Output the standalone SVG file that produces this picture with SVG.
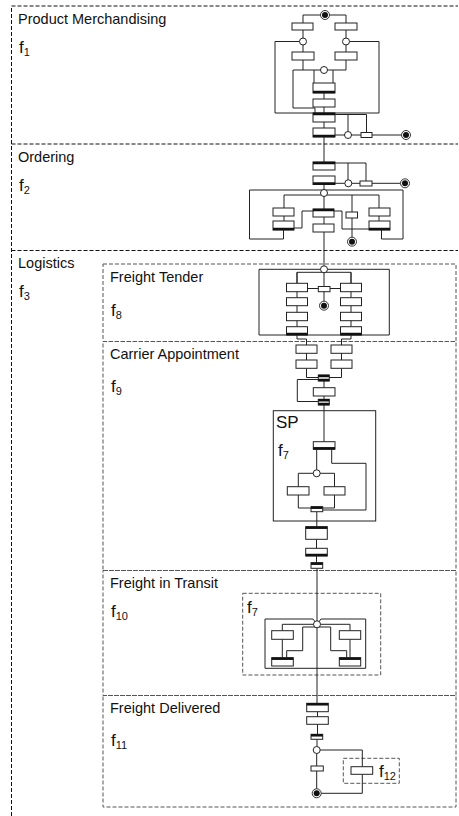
<svg xmlns="http://www.w3.org/2000/svg" width="459" height="816" viewBox="0 0 459 816">
<style>
text{font-family:"Liberation Sans",Arial,sans-serif;fill:#111}
.lbl{font-size:14.5px}
.f{font-size:17px}
.sub{font-size:11px}
.outer{fill:none;stroke:#111;stroke-width:1;stroke-dasharray:4 2}
.inner{fill:none;stroke:#555;stroke-width:1;stroke-dasharray:4 2}
.box{fill:none;stroke:#222;stroke-width:1}
.c{fill:none;stroke:#222;stroke-width:1}
.t{fill:#fff;stroke:#222;stroke-width:1}
.bar{fill:none;stroke:#111;stroke-width:2.5}
.p{fill:#fff;stroke:#222;stroke-width:1}
.e{fill:#fff;stroke:#333;stroke-width:1}
.ei{fill:#111}
</style>
<defs>
<g id="endc"><circle class="e" r="4.5"/><circle class="ei" r="3"/></g>
</defs>
<g id="frames">
<path class="outer" d="M11.5,816 V6 H458 M11.5,144 H458 M11.5,250.5 H458"/>
<rect class="inner" x="103" y="264" width="353" height="77.5"/>
<rect class="inner" x="103" y="341.5" width="353" height="229"/>
<rect class="inner" x="103" y="570.5" width="353" height="125"/>
<rect class="inner" x="103" y="695.5" width="353" height="111.5"/>
<rect class="inner" x="242.7" y="593.3" width="138" height="81.7"/>
<rect class="inner" x="343.3" y="758.3" width="56" height="25"/>
<rect class="box" x="273.3" y="410.7" width="102.4" height="110.3"/>
</g>
<g id="labels">
<text class="lbl" x="18" y="24">Product Merchandising</text>
<text class="f" x="19" y="53">f<tspan class="sub" dy="3">1</tspan></text>
<text class="lbl" x="18" y="162">Ordering</text>
<text class="f" x="19" y="191">f<tspan class="sub" dy="3">2</tspan></text>
<text class="lbl" x="18" y="268">Logistics</text>
<text class="f" x="19" y="297">f<tspan class="sub" dy="3">3</tspan></text>
<text class="lbl" x="110" y="282">Freight Tender</text>
<text class="f" x="111" y="316">f<tspan class="sub" dy="3">8</tspan></text>
<text class="lbl" x="110" y="359">Carrier Appointment</text>
<text class="f" x="111" y="392">f<tspan class="sub" dy="3">9</tspan></text>
<text class="lbl" x="110" y="588">Freight in Transit</text>
<text class="f" x="111" y="617">f<tspan class="sub" dy="3">10</tspan></text>
<text class="lbl" x="110" y="713">Freight Delivered</text>
<text class="f" x="111" y="746">f<tspan class="sub" dy="3">11</tspan></text>
<text class="f" x="276" y="428">SP</text>
<text class="f" x="278" y="456">f<tspan class="sub" dy="3">7</tspan></text>
<text class="f" x="247" y="613">f<tspan class="sub" dy="3">7</tspan></text>
<text class="f" x="379" y="777">f<tspan class="sub" dy="3">12</tspan></text>
</g>
<g id="connectors">
<!-- product merchandising -->
<path class="c" d="M303,23 V15 H346 V23 M303,30 V52 M346,30 V52"/>
<path class="c" d="M299.5,41.5 H275 V113 H379 V41.5 H349.5"/>
<path class="c" d="M303,60 V70 H346 V60 M314,70 V83 M333,70 V83 M303,70 H293 V108 H315 V113"/>
<path class="c" d="M324,93 V99 M324,107 V113 M324,122 V128 M335,114.5 H366.5 V133 M348,114.5 V131.5 M335,135 H401.5 M324,137 V162"/>
<!-- ordering -->
<path class="c" d="M335,163 H366 V181 M348,163 V180 M335,183.3 H400.5 M324,185 V193"/>
<path class="c" d="M249.5,190 H403 M249.5,190 V239 H283.5 V230 M403,190 V239 H381.5 V230"/>
<path class="c" d="M284,208 V195 H379 V208 M324,193 V209 M352,195 V212 M352,218 V237 M284,216 V221 M379,216 V221"/>
<path class="c" d="M294,228 H302 V211 H313 M334,211 H342 V229 H369 M324,217 V224 M324,232 V269"/>
<!-- freight tender -->
<path class="c" d="M320.5,269.3 H259 V335 H389.3 V269.3 H327.5"/>
<path class="c" d="M297,283.3 V272.3 H351 V283.3 M297,272.3 V326.7 M351,272.3 V326.7 M324,269 V301 M307.5,288.5 H340.5"/>
<path class="c" d="M297,335 V339 H306.5 V345 M351,335 V339 H341.5 V345"/>
<!-- carrier appointment -->
<path class="c" d="M306.5,353 V360 M341.5,353 V360 M306.5,368.3 V377.5 H318.3 M341.5,368.3 V377.5 H329"/>
<path class="c" d="M318.3,379.5 H297.3 V401.5 H318.3 M324,381 V387.7 M324,396 V399.3 M324,405 V441.7"/>
<path class="c" d="M316.7,449.3 V473.3 M331.7,449.3 V463.3 H366 V510 H322.7 M298.3,486.7 V473.3 H334.5 V486.7"/>
<path class="c" d="M298.3,495 V508 H311 M334.5,495 V508 H322.7 M316.8,511.7 V526.7 M316.5,539.3 V548.3 M316.5,556 V562.7 M317,568.3 V703.3"/>
<!-- freight in transit -->
<path class="c" d="M265,619 H313 L317,624.3 L321,619 H365.7 V668.3 H265 Z"/>
<path class="c" d="M317,624.3 H282.3 V630.7 M317,627 H302.7 V650.7 H286.7 V657.7 M282.3,639.3 V657.7"/>
<path class="c" d="M317,624.3 H350 V630.7 M317,627 H330.7 V650.7 H346.7 V657.7 M350,639.3 V657.7"/>
<!-- freight delivered -->
<path class="c" d="M317.5,711.7 V716.7 M317.5,724.3 V734.3 M317,739.3 V750 H362.3 V766.7 M362.3,774.3 V793.3 H317 M316.7,750 V793.3"/>
</g>
<g id="n-start"><use href="#endc" x="325" y="15"/></g>
<g id="n-a1"><rect class="t" x="292" y="23" width="21" height="7"/></g>
<g id="n-a2"><rect class="t" x="335" y="23" width="22" height="7"/></g>
<g id="n-pa"><circle class="p" cx="303" cy="41.5" r="3.5"/></g>
<g id="n-pb"><circle class="p" cx="346" cy="41.5" r="3.5"/></g>
<g id="n-b1"><rect class="t" x="292" y="52" width="22" height="8"/></g>
<g id="n-b2"><rect class="t" x="335" y="52" width="22" height="8"/></g>
<g id="n-pc"><circle class="p" cx="324" cy="70" r="3.5"/></g>
<g id="n-c1"><rect class="t" x="313" y="83" width="22" height="10"/><path class="bar" d="M313,92 H335"/></g>
<g id="n-c2"><rect class="t" x="313" y="99" width="22" height="8"/></g>
<g id="n-c3"><rect class="t" x="313" y="113" width="22" height="9"/><path class="bar" d="M313,114 H335"/></g>
<g id="n-c4"><rect class="t" x="313" y="128" width="22" height="9"/><path class="bar" d="M313,136 H335"/></g>
<g id="n-pd"><circle class="p" cx="348" cy="135" r="3.5"/></g>
<g id="n-s1"><rect class="t" x="361" y="132.5" width="11" height="5"/></g>
<g id="n-end1"><use href="#endc" x="406" y="135"/></g>
<g id="n-d1"><rect class="t" x="313" y="162" width="22" height="8"/><path class="bar" d="M313,163 H335"/></g>
<g id="n-d2"><rect class="t" x="313" y="176" width="22" height="8.5"/><path class="bar" d="M313,183.5 H335"/></g>
<g id="n-pe"><circle class="p" cx="348.3" cy="183.3" r="3.5"/></g>
<g id="n-s2"><rect class="t" x="360" y="181" width="12" height="5"/></g>
<g id="n-end2"><use href="#endc" x="405" y="183.3"/></g>
<g id="n-pq"><circle class="p" cx="324" cy="193" r="3.5"/></g>
<g id="n-e1"><rect class="t" x="273" y="208" width="21" height="8"/></g>
<g id="n-e2"><rect class="t" x="273" y="221" width="21" height="9"/><path class="bar" d="M273,229 H294"/></g>
<g id="n-f1"><rect class="t" x="313" y="209" width="21" height="8"/><path class="bar" d="M313,210 H334"/></g>
<g id="n-f2"><rect class="t" x="313" y="224" width="21" height="8"/></g>
<g id="n-g"><rect class="t" x="346" y="212" width="11.5" height="6"/></g>
<g id="n-end3"><use href="#endc" x="352" y="241.7"/></g>
<g id="n-h1"><rect class="t" x="369" y="208" width="21" height="8"/></g>
<g id="n-h2"><rect class="t" x="369" y="221" width="21" height="9"/><path class="bar" d="M369,229 H390"/></g>
<g id="n-pft"><circle class="p" cx="324" cy="269.3" r="3.5"/></g>
<g id="n-l1"><rect class="t" x="286.5" y="283.3" width="21" height="8.4"/></g>
<g id="n-l2"><rect class="t" x="286.5" y="297.7" width="21" height="8"/></g>
<g id="n-l3"><rect class="t" x="286.5" y="312.3" width="21" height="8.4"/></g>
<g id="n-l4"><rect class="t" x="286.5" y="326.7" width="21" height="8.3"/><path class="bar" d="M286.5,334 H307.5"/></g>
<g id="n-r1"><rect class="t" x="340.5" y="283.3" width="21" height="8.4"/></g>
<g id="n-r2"><rect class="t" x="340.5" y="297.7" width="21" height="8"/></g>
<g id="n-r3"><rect class="t" x="340.5" y="312.3" width="21" height="8.4"/></g>
<g id="n-r4"><rect class="t" x="340.5" y="326.7" width="21" height="8.3"/><path class="bar" d="M340.5,334 H361.5"/></g>
<g id="n-cs"><rect class="t" x="318.3" y="286.5" width="11.7" height="5.2"/></g>
<g id="n-end4"><use href="#endc" x="324" y="305.7"/></g>
<g id="n-p1"><rect class="t" x="296" y="345" width="21" height="8.3"/></g>
<g id="n-q1"><rect class="t" x="331" y="345" width="21" height="8.3"/></g>
<g id="n-p2"><rect class="t" x="296" y="360" width="21" height="8.3"/></g>
<g id="n-q2"><rect class="t" x="331" y="360" width="21" height="8.3"/></g>
<g id="n-ra"><rect class="t" x="318.3" y="375" width="11" height="6"/><path class="bar" d="M318.3,376 H329.3 M318.3,380 H329.3"/></g>
<g id="n-rb"><rect class="t" x="313.3" y="387.7" width="21.7" height="8.3"/></g>
<g id="n-rc"><rect class="t" x="318.3" y="399.3" width="11" height="5.7"/><path class="bar" d="M318.3,400.3 H329.3 M318.3,404 H329.3"/></g>
<g id="n-sp1"><rect class="t" x="313.3" y="441.7" width="21.7" height="7.6"/><path class="bar" d="M313.3,448.3 H335"/></g>
<g id="n-sp2"><circle class="p" cx="316.7" cy="473.3" r="3.5"/></g>
<g id="n-t1"><rect class="t" x="287.3" y="486.7" width="21.7" height="8.3"/></g>
<g id="n-t2"><rect class="t" x="324" y="486.7" width="21" height="8.3"/></g>
<g id="n-u"><rect class="t" x="311" y="506.7" width="11.7" height="5"/><path class="bar" d="M311,507.7 H322.7"/></g>
<g id="n-v1"><rect class="t" x="305.7" y="526.7" width="21.6" height="12.6"/><path class="bar" d="M305.7,527.7 H327.3"/></g>
<g id="n-v2"><rect class="t" x="305.7" y="548.3" width="21.6" height="7.7"/><path class="bar" d="M305.7,555 H327.3"/></g>
<g id="n-v3"><rect class="t" x="311" y="562.7" width="11.7" height="5.6"/><path class="bar" d="M311,563.7 H322.7"/></g>
<g id="n-ptr"><circle class="p" cx="317" cy="624.3" r="3.5"/></g>
<g id="n-w1"><rect class="t" x="271.7" y="630.7" width="21.6" height="8.6"/></g>
<g id="n-w2"><rect class="t" x="271.7" y="657.7" width="21.6" height="8.3"/><path class="bar" d="M271.7,658.7 H293.3"/></g>
<g id="n-x1"><rect class="t" x="339.3" y="630.7" width="21.4" height="8.6"/></g>
<g id="n-x2"><rect class="t" x="339.3" y="657.7" width="21.4" height="8.3"/><path class="bar" d="M339.3,658.7 H360.7"/></g>
<g id="n-y1"><rect class="t" x="306.7" y="703.3" width="21.6" height="8.4"/><path class="bar" d="M306.7,704.3 H328.3"/></g>
<g id="n-y2"><rect class="t" x="306.7" y="716.7" width="21.6" height="7.6"/></g>
<g id="n-y3"><rect class="t" x="311" y="734.3" width="11.7" height="5"/><path class="bar" d="M311,735.3 H322.7"/></g>
<g id="n-pdl"><circle class="p" cx="316.7" cy="750" r="3.5"/></g>
<g id="n-z"><rect class="t" x="351" y="766.7" width="21.7" height="7.6"/></g>
<g id="n-zs"><rect class="t" x="311" y="766" width="12.3" height="5"/></g>
<g id="n-end5"><use href="#endc" x="316.7" y="793.3"/></g>
</svg>
